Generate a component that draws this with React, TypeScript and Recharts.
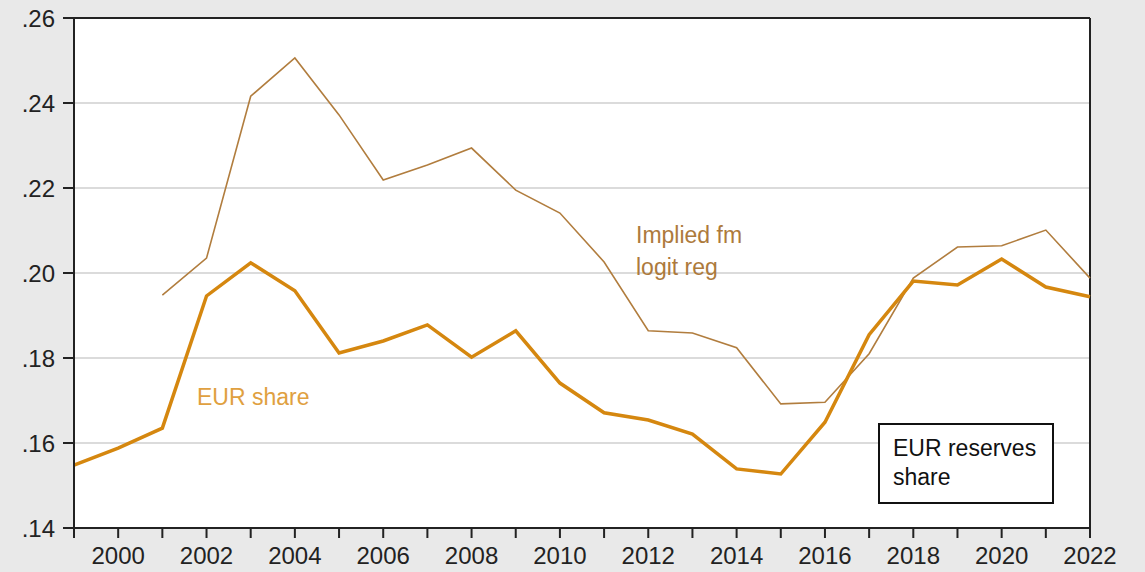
import { LineChart, Line, XAxis, YAxis, CartesianGrid, ReferenceLine } from 'recharts'

const years = [
  1999, 2000, 2001, 2002, 2003, 2004, 2005, 2006, 2007, 2008, 2009, 2010,
  2011, 2012, 2013, 2014, 2015, 2016, 2017, 2018, 2019, 2020, 2021, 2022,
]

const eurShare = [
  0.1548, 0.1588, 0.1635, 0.1946, 0.2024, 0.1958, 0.1812, 0.184, 0.1878, 0.1802, 0.1864, 0.1741,
  0.1671, 0.1654, 0.1621, 0.1539, 0.1527, 0.1649, 0.1855, 0.1981, 0.1972, 0.2033, 0.1967, 0.1944,
]

const impliedLogit = [
  null, null, 0.1948, 0.2035, 0.2416, 0.2506, 0.2372, 0.2219, 0.2254, 0.2294, 0.2195, 0.2141,
  0.2026, 0.1864, 0.1859, 0.1824, 0.1692, 0.1696, 0.181, 0.1988, 0.2061, 0.2064, 0.2101, 0.1988,
]

const yTicks = [0.14, 0.16, 0.18, 0.2, 0.22, 0.24, 0.26]

const data = years.map((year, i) => ({
  year,
  eur: eurShare[i],
  implied: impliedLogit[i],
}))

const font = '"Liberation Sans", Arial, sans-serif'

export default function App() {
  return (
    <div
      style={{
        position: 'absolute',
        left: 0,
        top: 0,
        width: 1145,
        height: 572,
        background: '#e9e9e9',
        fontFamily: font,
      }}
    >
      <LineChart width={1145} height={572} data={data} margin={{ top: 18, right: 55, bottom: 0, left: 0 }}>
        <CartesianGrid vertical={false} stroke="#cfcfcf" strokeWidth={1.5} fill="#ffffff" />
        <XAxis
          dataKey="year"
          type="number"
          domain={[1999, 2022]}
          ticks={years}
          interval={0}
          height={44}
          tickSize={10}
          tickMargin={9}
          stroke="#222"
          strokeWidth={2}
          tick={{ fill: '#222', fontSize: 24, fontFamily: font }}
          tickFormatter={(v: number) => (v % 2 === 0 ? String(v) : '')}
        />
        <YAxis
          type="number"
          domain={[0.14, 0.26]}
          ticks={yTicks}
          width={74}
          tickSize={11}
          tickMargin={8}
          stroke="#222"
          strokeWidth={2}
          tick={{ fill: '#222', fontSize: 24, fontFamily: font }}
          tickFormatter={(v: number) => v.toFixed(2).replace(/^0/, '')}
        />
        <ReferenceLine y={0.26} stroke="#222" strokeWidth={2} />
        <ReferenceLine x={2022} stroke="#222" strokeWidth={2} />
        <Line
          type="linear"
          dataKey="implied"
          stroke="#b17d3e"
          strokeWidth={1.6}
          dot={false}
          connectNulls={false}
          isAnimationActive={false}
        />
        <Line
          type="linear"
          dataKey="eur"
          stroke="#d5870f"
          strokeWidth={3.5}
          dot={false}
          isAnimationActive={false}
        />
      </LineChart>
      <div style={{ position: 'absolute', left: 636, top: 219, fontSize: 23, lineHeight: '32px', color: '#ad7a3c' }}>
        Implied fm
        <br />
        logit reg
      </div>
      <div style={{ position: 'absolute', left: 197, top: 382, fontSize: 23, lineHeight: '30px', color: '#e0a040' }}>
        EUR share
      </div>
      <div
        style={{
          position: 'absolute',
          left: 878,
          top: 423,
          width: 172,
          height: 77,
          border: '2px solid #111',
          background: '#fff',
          boxSizing: 'content-box',
        }}
      >
        <div style={{ position: 'absolute', left: 13, top: 9, fontSize: 23, lineHeight: '29px', color: '#111', whiteSpace: 'nowrap' }}>
          EUR reserves
          <br />
          share
        </div>
      </div>
    </div>
  )
}
